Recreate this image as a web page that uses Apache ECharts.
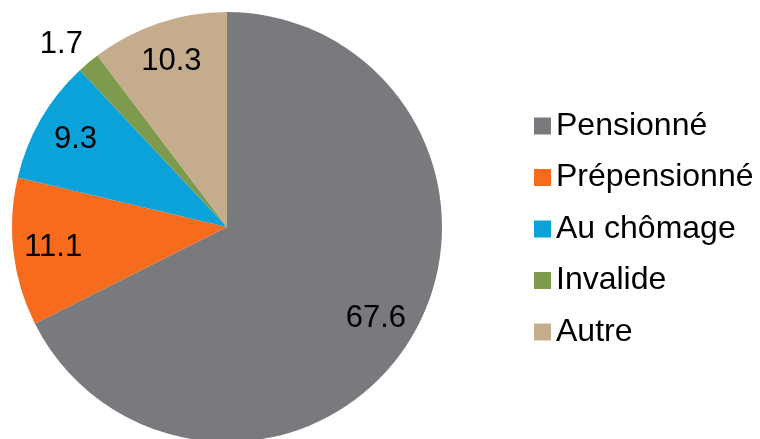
<!DOCTYPE html>
<html>
<head>
<meta charset="utf-8">
<script src="https://cdn.jsdelivr.net/npm/echarts@6/dist/echarts.min.js"></script>
<style>
  html, body { margin: 0; padding: 0; background: #fff; }
  #main { width: 760px; height: 439px; }
</style>
</head>
<body>
<div id="main"></div>
<script>
// données du graphique
var categories = ['Pensionné', 'Prépensionné', 'Au chômage', 'Invalide', 'Autre'];
var values = [67.6, 11.1, 9.3, 1.7, 10.3];
var colors = ['#797a7e', '#f76b1c', '#0ba2d9', '#7e9a4c', '#c4ac8c'];

var FONT = '"Liberation Sans", Arial, sans-serif';
var CX = 227, CY = 227, R = 215;

var myChart = echarts.init(document.getElementById('main'));

// secteurs visibles (l'étiquette de "Invalide" est à l'extérieur)
var pieData = [];
// série transparente qui sert seulement à placer les étiquettes à ~0.8 du rayon
var labelData = [];
for (var i = 0; i < categories.length; i++) {
    var outside = categories[i] === 'Invalide';
    pieData.push({
        name: categories[i],
        value: values[i],
        itemStyle: { color: colors[i] },
        label: { show: outside },
        labelLine: { show: false }
    });
    labelData.push({
        name: categories[i],
        value: values[i],
        label: { show: !outside }
    });
}

var option = {
    animation: false,
    legend: {
        orient: 'vertical',
        left: 534,
        top: 110,
        padding: 0,
        itemWidth: 17,
        itemHeight: 17,
        itemGap: 19.5,
        icon: 'rect',
        data: categories,
        textStyle: {
            fontFamily: FONT,
            fontSize: 32,
            lineHeight: 32,
            color: '#000'
        }
    },
    series: [
        {
            type: 'pie',
            center: [CX, CY],
            radius: [0, R],
            startAngle: 90,
            clockwise: true,
            silent: true,
            data: pieData,
            label: {
                position: 'outside',
                formatter: function (p) { return p.value.toFixed(1); },
                fontFamily: FONT,
                fontSize: 31,
                color: '#000'
            },
            labelLine: { show: false, length: 24, length2: -15 },
            itemStyle: { borderWidth: 0 }
        },
        {
            type: 'pie',
            center: [CX, CY],
            radius: [0, 2 * 0.8 * R],
            startAngle: 90,
            clockwise: true,
            silent: true,
            legendHoverLink: false,
            data: labelData,
            itemStyle: { color: 'rgba(0,0,0,0)', borderWidth: 0 },
            label: {
                position: 'inside',
                formatter: function (p) { return p.value.toFixed(1); },
                fontFamily: FONT,
                fontSize: 31,
                color: '#000'
            },
            labelLine: { show: false }
        }
    ]
};
myChart.setOption(option);
</script>
</body>
</html>
